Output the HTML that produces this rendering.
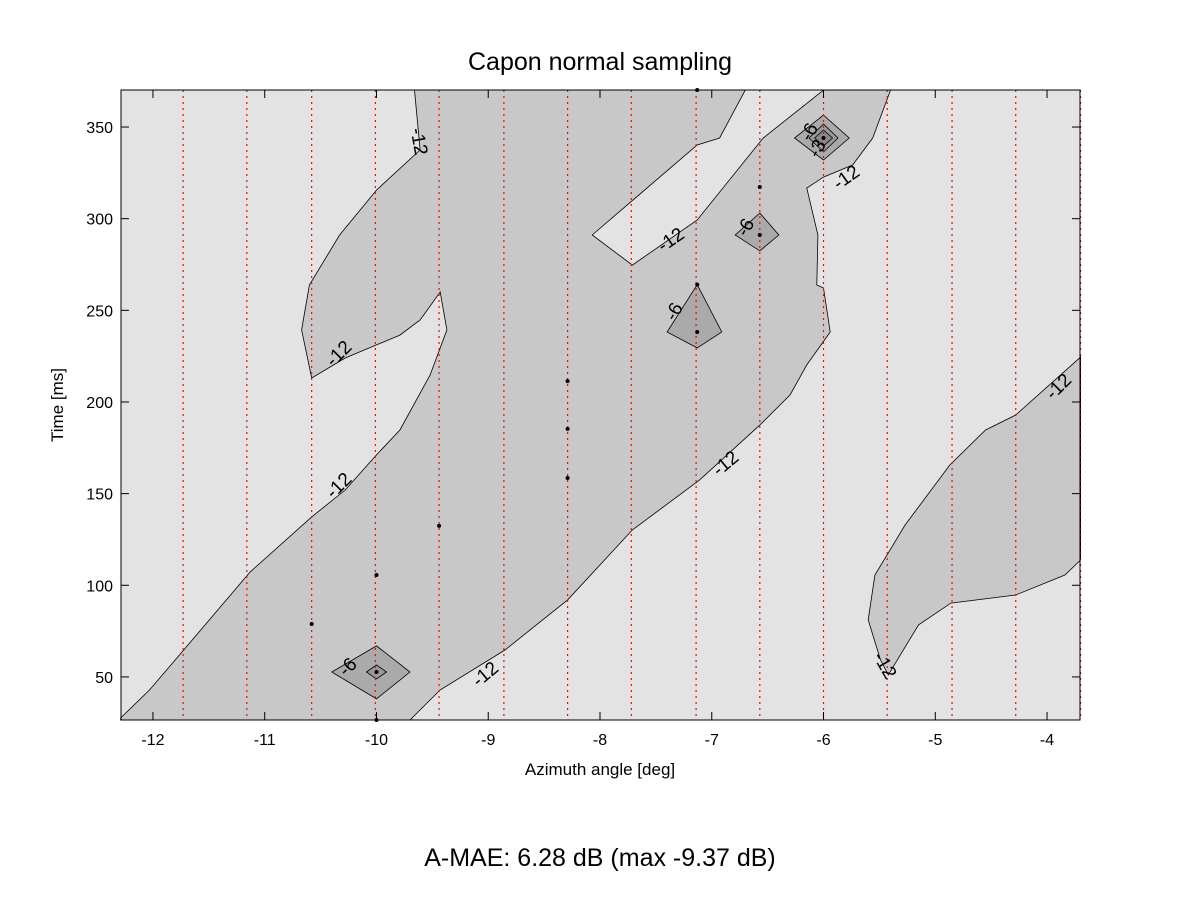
<!DOCTYPE html>
<html><head><meta charset="utf-8"><style>
body{margin:0;background:#fff;}
svg text{font-family:"Liberation Sans",Arial,sans-serif;}
</style></head><body>
<svg id="chart" width="1201" height="901" viewBox="0 0 1201 901" xmlns="http://www.w3.org/2000/svg">
<rect width="1201" height="901" fill="#fff"/>
<text x="600" y="70" font-size="25" text-anchor="middle">Capon normal sampling</text>
<g id="plot"></g>
<text x="600" y="775" font-size="17" text-anchor="middle">Azimuth angle [deg]</text>
<text transform="translate(63,405) rotate(-90)" font-size="17" text-anchor="middle">Time [ms]</text>
<text x="600" y="866" font-size="25" text-anchor="middle">A-MAE: 6.28 dB (max -9.37 dB)</text>
</svg>
<script>
const xTicks=[-12,-11,-10,-9,-8,-7,-6,-5,-4];
const yTicks=[50,100,150,200,250,300,350];
const xDomain=[-12.286,-3.705];
const yDomain=[26.5,370.2];
const sampleAz=[-11.73,-11.16,-10.58,-10.01,-9.44,-8.86,-8.29,-7.72,-7.14,-6.57,-6.0,-5.43,-4.85,-4.28,-3.70];
// contour regions in data units [deg, ms]
const midRegion=[[-12.29,26.5],[-12.29,27.6],[-12.03,42.9],[-11.71,65.8],[-11.13,107.3],[-10.58,137.3],[-10.28,152.0],[-10.0,171.1],[-9.79,184.7],[-9.52,214.7],[-9.37,239.3],[-9.43,260.0],[-9.61,244.7],[-9.79,236.5],[-10.28,224.0],[-10.58,213.1],[-10.67,239.3],[-10.60,263.8],[-10.33,291.1],[-10.0,315.6],[-9.61,337.5],[-9.66,370.2],[-5.40,370.2],[-5.56,344.0],[-5.74,329.3],[-6.0,322.7],[-6.15,316.7],[-6.05,291.1],[-6.06,263.8],[-6.0,262.2],[-5.94,238.2],[-6.15,220.2],[-6.30,203.8],[-6.57,187.4],[-7.11,157.4],[-7.71,130.2],[-8.29,92.0],[-8.85,64.7],[-9.43,42.9],[-9.70,26.5]];
const lightStrip=[[-8.07,291.1],[-7.13,340.2],[-6.93,344.0],[-6.70,370.2],[-6.0,370.2],[-6.09,365.8],[-6.54,344.0],[-7.13,299.3],[-7.71,274.7]];
const lowerRight=[[-3.70,224.5],[-4.28,192.9],[-4.55,184.7],[-4.87,165.6],[-5.27,132.9],[-5.54,105.6],[-5.60,81.1],[-5.49,59.3],[-5.42,51.1],[-5.15,78.4],[-4.86,90.3],[-4.28,94.7],[-3.84,105.6],[-3.70,113.8]];
const peakA=[[-7.13,264.0],[-7.40,238.2],[-7.13,229.5],[-6.91,238.2]];
const peakB=[[-6.57,303.1],[-6.79,291.1],[-6.57,282.4],[-6.40,291.1]];
const peakC=[[-6.0,356.5],[-6.26,344.0],[-6.0,332.0],[-5.77,344.0]];
const peakCin=[[-6.0,351.6],[-6.13,344.0],[-6.0,336.4],[-5.87,344.0]];
const peakCin2=[[-6.0,348.4],[-6.08,344.0],[-6.0,339.6],[-5.92,344.0]];
const peakD=[[-10.0,66.9],[-10.40,52.7],[-10.0,38.0],[-9.70,52.7]];
const peakDin=[[-10.0,56.5],[-10.09,52.7],[-10.0,48.9],[-9.91,52.7]];
const dotAz=[-10.58,-10.0,-10.0,-9.44,-8.29,-8.29,-8.29,-7.13,-7.13,-7.13,-6.57,-6.57,-6.0,-10.0];
const dotMs=[78.9,105.6,52.7,132.4,211.4,185.3,158.5,370.2,264.0,238.2,317.3,291.1,344.0,26.5];
const labelText=["-12","-12","-12","-12","-12","-12","-12","-12","-12","-6","-6","-6","-6","-3"];
const labelAz=[-9.63,-10.33,-10.33,-6.87,-9.02,-7.36,-5.79,-3.89,-5.46,-10.25,-7.33,-6.69,-6.12,-6.05];
const labelMs=[342,226,154,166,51,288,322,208,56,55,249,295,347,338];
const labelRot=[80,-45,-45,-40,-40,-35,-35,-45,60,-45,-60,-60,-60,-60];

const L=121,R=1080,T=90,B=720;
const sx=v=>L+(v-xDomain[0])/(xDomain[1]-xDomain[0])*(R-L);
const sy=v=>B-(v-yDomain[0])/(yDomain[1]-yDomain[0])*(B-T);
const NS="http://www.w3.org/2000/svg";
const plot=document.getElementById('plot');
function mk(tag,attrs,parent){const e=document.createElementNS(NS,tag);for(const k in attrs)e.setAttribute(k,attrs[k]);(parent||plot).appendChild(e);return e;}
const pts=a=>a.map(p=>sx(p[0]).toFixed(1)+','+sy(p[1]).toFixed(1)).join(' ');

let e=mk('rect',{x:L,y:T,width:R-L,height:B-T,fill:'#e3e3e3'});


const regions=[[midRegion,'#c8c8c8','contour-band-12'],[lightStrip,'#e3e3e3','contour-light-strip'],[lowerRight,'#c8c8c8','contour-region-lower-right'],[peakA,'#aaaaaa','contour-peak-a'],[peakB,'#aaaaaa','contour-peak-b'],[peakC,'#aaaaaa','contour-peak-c'],[peakCin,'#999999','contour-peak-c-inner'],[peakCin2,'#888888','contour-peak-c-core'],[peakD,'#aaaaaa','contour-peak-d'],[peakDin,'#999999','contour-peak-d-inner']];
regions.forEach(r=>{
  e=mk('polygon',{points:pts(r[0]),fill:r[1],stroke:'#000','stroke-width':0.8});
  
  
});
sampleAz.forEach(a=>{
  e=mk('line',{x1:sx(a),x2:sx(a),y1:T,y2:B,stroke:'#ff0000','stroke-width':1.2,'stroke-dasharray':'2,4'});
  
  
});
dotAz.forEach((a,i)=>{
  e=mk('circle',{cx:sx(a),cy:sy(dotMs[i]),r:2,fill:'#000'});
  
  
});
labelText.forEach((t,i)=>{
  const x=sx(labelAz[i]),y=sy(labelMs[i]);
  e=mk('text',{x:x,y:y,'font-size':19,'text-anchor':'middle','dominant-baseline':'middle',transform:`rotate(${labelRot[i]},${x},${y})`});
  e.textContent=t;
  
  
});
e=mk('rect',{x:L,y:T,width:R-L,height:B-T,fill:'none',stroke:'#000','stroke-width':1});


xTicks.forEach(v=>{
  const x=sx(v);
  mk('line',{x1:x,x2:x,y1:B,y2:B-8,stroke:'#000'});
  mk('line',{x1:x,x2:x,y1:T,y2:T+8,stroke:'#000'});
  e=mk('text',{x:x,y:B+25,'font-size':16,'text-anchor':'middle'});
  e.textContent=v;
  
  
});
yTicks.forEach(v=>{
  const y=sy(v);
  mk('line',{x1:L,x2:L+8,y1:y,y2:y,stroke:'#000'});
  mk('line',{x1:R,x2:R-8,y1:y,y2:y,stroke:'#000'});
  e=mk('text',{x:L-8,y:y+6,'font-size':16,'text-anchor':'end'});
  e.textContent=v;
  
  
});
</script>
</body></html>
